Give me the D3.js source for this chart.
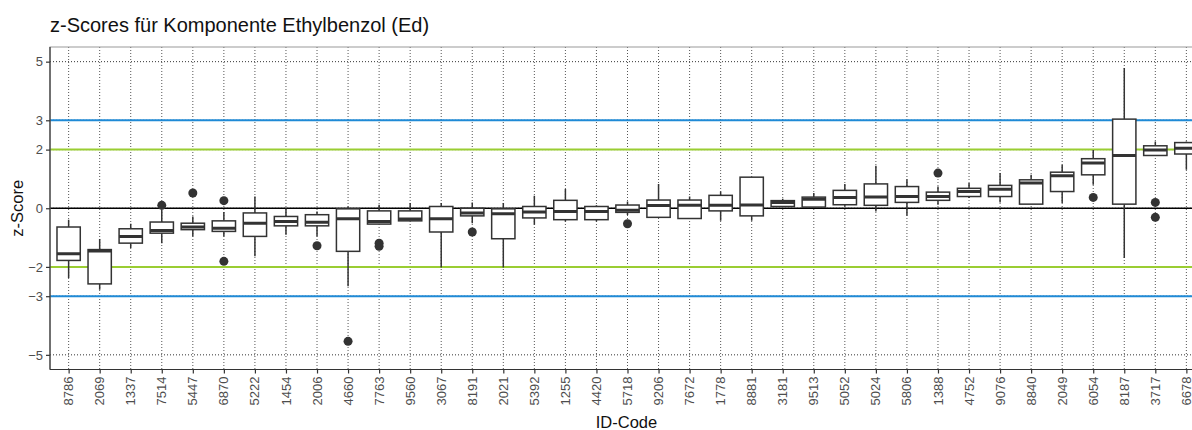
<!DOCTYPE html>
<html>
<head>
<meta charset="utf-8">
<script src="https://d3js.org/d3.v7.min.js"></script>
<style>
  body { margin: 0; background: #fff; }
  svg { display: block; font-family: "Liberation Sans", Arial, sans-serif; }
</style>
</head>
<body>
<svg id="chart" width="1192" height="430"></svg>
<script>
const categories = ["8786","2069","1337","7514","5447","6870","5222","1454","2006","4660","7763","9560","3067","8191","2021","5392","1255","4420","5718","9206","7672","1778","8881","3181","9513","5052","5024","5806","1388","4752","9076","8840","2049","6054","8187","3717","6678"];
const whiskerLow  = [-2.38,-2.78,-1.36,-1.19,-0.96,-0.96,-1.64,-0.90,-0.96,-2.66,-0.54,-0.43,-2.02,-0.51,-2.02,-0.56,-0.45,-0.45,-0.23,-0.31,-0.35,-0.43,-0.43,0.04,0.04,0.06,-0.11,-0.26,0.12,0.35,0.20,0.14,0.18,0.80,-1.70,1.80,1.31];
const q1          = [-1.78,-2.58,-1.19,-0.85,-0.73,-0.79,-0.96,-0.60,-0.60,-1.47,-0.54,-0.43,-0.81,-0.26,-1.04,-0.33,-0.39,-0.39,-0.14,-0.31,-0.35,-0.09,-0.26,0.06,0.04,0.12,0.10,0.20,0.27,0.40,0.40,0.14,0.57,1.14,0.14,1.80,1.85];
const medians     = [-1.55,-1.46,-0.96,-0.76,-0.64,-0.68,-0.51,-0.45,-0.48,-0.36,-0.45,-0.37,-0.36,-0.16,-0.19,-0.13,-0.11,-0.11,-0.07,0.09,0.10,0.10,0.11,0.20,0.31,0.37,0.38,0.40,0.40,0.57,0.65,0.86,1.11,1.54,1.80,1.99,2.05];
const q3          = [-0.64,-1.41,-0.70,-0.47,-0.51,-0.43,-0.16,-0.28,-0.22,-0.02,-0.09,-0.09,0.06,0.00,-0.02,0.06,0.27,0.06,0.11,0.28,0.28,0.44,1.06,0.26,0.38,0.61,0.83,0.74,0.55,0.68,0.78,0.97,1.23,1.69,3.04,2.13,2.24];
const whiskerHigh = [-0.39,-1.05,-0.53,-0.05,-0.28,-0.13,0.40,0.00,-0.11,0.06,0.12,0.18,0.18,0.20,0.18,0.43,0.66,0.10,0.23,0.83,0.40,0.57,1.06,0.32,0.52,0.83,1.45,0.99,0.74,0.86,1.20,1.14,1.48,1.99,4.78,2.28,2.28];
const outlierIds    = ["7514","5447","6870","6870","2006","4660","7763","7763","8191","5718","1388","6054","3717","3717"];
const outlierValues = [0.10,0.52,0.26,-1.81,-1.28,-4.54,-1.19,-1.30,-0.81,-0.53,1.20,0.37,0.20,-0.31];
const yTicks = [-5,-3,-2,0,2,3,5];
const refLines = [
  {v: 3, c: "#1f8ad6"}, {v: -3, c: "#1f8ad6"},
  {v: 2, c: "#9acd32"}, {v: -2, c: "#9acd32"},
  {v: 0, c: "#000000"}
];

const svg = d3.select("#chart");
const pL = 50, pT = 47, pB = 369.5, pR = 1205;

const x = d3.scalePoint().domain(categories).range([pL, pR]).padding(0.6);
const y = d3.scaleLinear().domain([-5.5, 5.5]).range([pB, pT]);
const step = x.step();
const bw = step * 0.75;

svg.append("defs").append("clipPath").attr("id", "panel")
  .append("rect").attr("x", pL).attr("y", pT).attr("width", pR - pL).attr("height", pB - pT);

const panel = svg.append("g").attr("clip-path", "url(#panel)");

// grid
panel.selectAll(".gy").data(yTicks).join("line")
  .attr("x1", pL).attr("x2", pR)
  .attr("y1", d => y(d)).attr("y2", d => y(d))
  .attr("stroke", "#333").attr("stroke-width", 1).attr("stroke-dasharray", "1 2");
panel.selectAll(".gx").data(categories).join("line")
  .attr("x1", d => x(d)).attr("x2", d => x(d))
  .attr("y1", pT).attr("y2", pB)
  .attr("stroke", "#555").attr("stroke-width", 1).attr("stroke-dasharray", "1 2");

// reference lines
panel.selectAll(".ref").data(refLines).join("line")
  .attr("x1", pL).attr("x2", pR)
  .attr("y1", d => y(d.v)).attr("y2", d => y(d.v))
  .attr("stroke", d => d.c).attr("stroke-width", d => d.v === 0 ? 1.6 : 2);

// boxes
const data = categories.map((c, i) => ({c, lo: whiskerLow[i], q1: q1[i], med: medians[i], q3: q3[i], hi: whiskerHigh[i]}));
const col = "#333333";
const g = panel.selectAll(".box").data(data).join("g");
g.append("line").attr("x1", d => x(d.c)).attr("x2", d => x(d.c))
  .attr("y1", d => y(d.hi)).attr("y2", d => y(d.q3)).attr("stroke", col).attr("stroke-width", 1.5);
g.append("line").attr("x1", d => x(d.c)).attr("x2", d => x(d.c))
  .attr("y1", d => y(d.q1)).attr("y2", d => y(d.lo)).attr("stroke", col).attr("stroke-width", 1.5);
g.append("rect").attr("x", d => x(d.c) - bw / 2).attr("width", bw)
  .attr("y", d => y(d.q3)).attr("height", d => Math.max(0.5, y(d.q1) - y(d.q3)))
  .attr("fill", "#fff").attr("stroke", col).attr("stroke-width", 1.5);
g.append("line").attr("x1", d => x(d.c) - bw / 2).attr("x2", d => x(d.c) + bw / 2)
  .attr("y1", d => y(d.med)).attr("y2", d => y(d.med)).attr("stroke", col).attr("stroke-width", 3);

// outliers
panel.selectAll(".out").data(outlierIds.map((id, i) => ({id, v: outlierValues[i]}))).join("circle")
  .attr("cx", d => x(d.id)).attr("cy", d => y(d.v)).attr("r", 4.5).attr("fill", col);

// panel border
svg.append("rect").attr("x", pL).attr("y", pT).attr("width", pR - pL).attr("height", pB - pT)
  .attr("fill", "none").attr("stroke", "#9a9a9a").attr("stroke-width", 1);
svg.append("line").attr("x1", pL).attr("x2", pL).attr("y1", pT).attr("y2", pB).attr("stroke", "#333").attr("stroke-width", 1.2);
svg.append("line").attr("x1", pL).attr("x2", pR).attr("y1", pB).attr("y2", pB).attr("stroke", "#333").attr("stroke-width", 1.2);

// y axis
const yAxis = svg.append("g").attr("transform", `translate(${pL},0)`)
  .call(d3.axisLeft(y).tickValues(yTicks).tickSize(4).tickPadding(3).tickFormat(d3.format("d")));
yAxis.select(".domain").remove();
yAxis.selectAll("line").attr("stroke", "#333").attr("stroke-width", 1.2);
yAxis.selectAll("text").attr("fill", "#4d4d4d").style("font-size", "13px")
  .style("font-family", "'Liberation Sans', Arial, sans-serif");

// x axis
const xAxis = svg.append("g").attr("transform", `translate(0,${pB})`)
  .call(d3.axisBottom(x).tickSize(4).tickPadding(3));
xAxis.select(".domain").remove();
xAxis.selectAll("line").attr("stroke", "#333").attr("stroke-width", 1.2);
xAxis.selectAll("text").attr("fill", "#4d4d4d").style("font-size", "13px")
  .style("font-family", "'Liberation Sans', Arial, sans-serif")
  .attr("transform", "rotate(-90)").attr("text-anchor", "end")
  .attr("x", -7).attr("y", -0.5).attr("dy", "0.35em");

// titles
svg.append("text").attr("x", pL).attr("y", 32).text("z-Scores für Komponente Ethylbenzol (Ed)")
  .attr("fill", "#111").style("font-size", "20px");
svg.append("text").attr("x", (pL + pR) / 2 - 1).attr("y", 428).attr("text-anchor", "middle")
  .text("ID-Code").attr("fill", "#111").style("font-size", "16.5px");
svg.append("text").attr("transform", `translate(23,${(pT + pB) / 2}) rotate(-90)`).attr("text-anchor", "middle")
  .text("z-Score").attr("fill", "#111").style("font-size", "16.5px");
</script>
</body>
</html>
